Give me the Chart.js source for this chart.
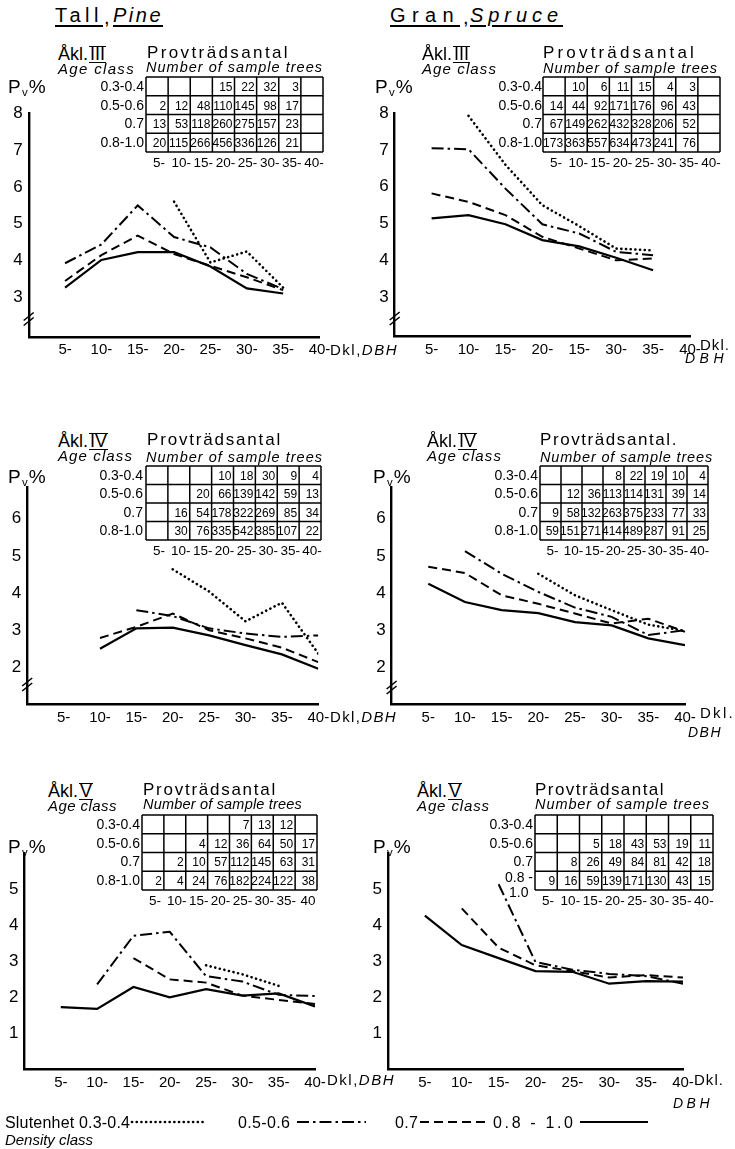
<!DOCTYPE html>
<html>
<head>
<meta charset="utf-8">
<script src="https://cdn.jsdelivr.net/npm/chart.js@4.4.0/dist/chart.umd.min.js"></script>
<style>
    body { margin: 0; background: #fff; }
    #page { position: relative; width: 735px; height: 1149px; overflow: hidden; font-family: "Liberation Sans", Arial, sans-serif; color: #000; }
    .t { position: absolute; white-space: nowrap; line-height: 1.2; }
    .u { text-decoration: underline; text-decoration-thickness: 1.6px; text-underline-offset: 3px; }
    .rn { display: inline-block; border-top: 1.6px solid #000; border-bottom: 1.6px solid #000; line-height: 0.8; padding: 0 1px; margin-left: 1px; }
    .box { position: absolute; }
    sub { font-size: 0.6em; vertical-align: -0.25em; }
    svg { position: absolute; overflow: visible; }
</style>
</head>
<body>
<div id="page"></div>
<script>
// Diameter classes (x) and labels
const dbhClasses = [5, 10, 15, 20, 25, 30, 35, 40];
const xTickLabels = ['5-', '10-', '15-', '20-', '25-', '30-', '35-', '40-'];
const xTickLabelsGranIII = ['5-', '10-', '15-', '20-', '15-', '30-', '35-', '40-'];
const densityClasses = ['0.3-0.4', '0.5-0.6', '0.7', '0.8-1.0'];
const tableColLabels = ['5-', '10-', '15-', '20-', '25-', '30-', '35-', '40-'];
const tableColLabelsV = ['5-', '10-', '15-', '20-', '25-', '30-', '35-', '40'];
const yTicksIII = [3, 4, 5, 6, 7, 8];
const yTicksIV = [2, 3, 4, 5, 6];
const yTicksV = [1, 2, 3, 4, 5];

// Pv % — Tall (Pine)
const tallIII_03 = [null, null, null, 5.6, 3.95, 4.25, 3.27, null];
const tallIII_05 = [3.93, 4.44, 5.5, 4.64, 4.36, 3.64, 3.23, null];
const tallIII_07 = [3.45, 4.15, 4.68, 4.18, 3.86, 3.55, 3.2, null];
const tallIII_08 = [3.27, 4.02, 4.23, 4.23, 3.84, 3.25, 3.11, null];

const tallIV_03 = [null, null, null, 4.64, 4.04, 3.24, 3.74, 2.37];
const tallIV_05 = [null, null, 3.54, 3.38, 3.05, 2.91, 2.82, 2.86];
const tallIV_07 = [null, 2.79, 3.09, 3.45, 3.0, 2.78, 2.53, 2.14];
const tallIV_08 = [null, 2.5, 3.05, 3.07, 2.86, 2.6, 2.35, 1.96];

const tallV_03 = [null, null, null, null, 2.89, 2.64, 2.32, null];
const tallV_05 = [null, 2.36, 3.71, 3.82, 2.59, 2.44, 2.07, 2.04];
const tallV_07 = [null, null, 3.09, 2.5, 2.41, 2.05, 1.93, 1.82];
const tallV_08 = [1.73, 1.68, 2.29, 2.0, 2.23, 2.05, 2.11, 1.75];

// Pv % — Gran (Spruce)
const granIII_03 = [null, 7.93, 6.6, 5.5, 4.93, 4.32, 4.27, null];
const granIII_05 = [7.05, 7.02, 5.95, 4.98, 4.73, 4.23, 4.14, null];
const granIII_07 = [5.82, 5.59, 5.23, 4.64, 4.32, 4.0, 4.05, null];
const granIII_08 = [5.14, 5.23, 4.98, 4.55, 4.38, 4.07, 3.73, null];

const granIV_03 = [null, null, null, 4.52, 3.94, 3.54, 3.15, 2.98];
const granIV_05 = [null, 5.13, 4.52, 4.03, 3.61, 3.36, 2.87, 3.0];
const granIV_07 = [4.71, 4.54, 3.94, 3.71, 3.45, 3.18, 3.31, 2.96];
const granIV_08 = [4.25, 3.76, 3.54, 3.46, 3.22, 3.13, 2.78, 2.6];

const granV_03 = [null, null, null, null, null, null, null, null];
const granV_05 = [null, null, 5.14, 2.98, 2.77, 2.65, 2.59, 2.38];
const granV_07 = [null, 4.47, 3.38, 2.89, 2.73, 2.55, 2.62, 2.55];
const granV_08 = [4.27, 3.45, 3.09, 2.73, 2.71, 2.38, 2.45, 2.44];

// Number of sample trees (rows = density classes)
const tallIII_trees = [['', '', '', 15, 22, 32, 3, ''], [2, 12, 48, 110, 145, 98, 17, ''], [13, 53, 118, 260, 275, 157, 23, ''], [20, 115, 266, 456, 336, 126, 21, '']];
const granIII_trees = [['', 10, 6, 11, 15, 4, 3, ''], [14, 44, 92, 171, 176, 96, 43, ''], [67, 149, 262, 432, 328, 206, 52, ''], [173, 363, 557, 634, 473, 241, 76, '']];
const tallIV_trees = [['', '', '', 10, 18, 30, 9, 4], ['', '', 20, 66, 139, 142, 59, 13], ['', 16, 54, 178, 322, 269, 85, 34], ['', 30, 76, 335, 542, 385, 107, 22]];
const granIV_trees = [['', '', '', 8, 22, 19, 10, 4], ['', 12, 36, 113, 114, 131, 39, 14], [9, 58, 132, 263, 375, 233, 77, 33], [59, 151, 271, 414, 489, 287, 91, 25]];
const tallV_trees = [['', '', '', '', 7, 13, 12, ''], ['', '', 4, 12, 36, 64, 50, 17], ['', 2, 10, 57, 112, 145, 63, 31], [2, 4, 24, 76, 182, 224, 122, 38]];
const granV_trees = [['', '', '', '', '', '', '', ''], ['', '', 5, 18, 43, 53, 19, 11], ['', 8, 26, 49, 84, 81, 42, 18], [9, 16, 59, 139, 171, 130, 43, 15]];

const lineStyles = [
    { borderDash: [0.1, 4.6], borderCapStyle: 'round', borderWidth: 2.6 },
    { borderDash: [12, 4, 2.5, 4], borderWidth: 2 },
    { borderDash: [9, 5], borderWidth: 2 },
    { borderDash: [], borderWidth: 2.2 }
];

const FONT = '"Liberation Sans", Arial, sans-serif';
const page = document.getElementById('page');
const SVGNS = 'http://www.w3.org/2000/svg';

// Absolute text: x = left edge, y = vertical centre of capitals
function T(html, x, y, size, o = {}) {
    const el = document.createElement('div');
    el.className = 't';
    el.innerHTML = html;
    el.style.fontSize = size + 'px';
    if (o.italic) el.style.fontStyle = 'italic';
    page.appendChild(el);
    if (o.w) {
        const nat = el.getBoundingClientRect().width;
        el.style.letterSpacing = ((o.w - nat) / el.textContent.length) + 'px';
    }
    const w = el.getBoundingClientRect().width;
    el.style.left = (o.align === 'right' ? x - w : x) + 'px';
    el.style.top = (y - size * 0.6) + 'px';
    return el;
}

function svgEl(tag, attrs, parent) {
    const e = document.createElementNS(SVGNS, tag);
    for (const k in attrs) e.setAttribute(k, attrs[k]);
    if (parent) parent.appendChild(e);
    return e;
}

function countTable(p) {
    const cw = p.tw / 8, rh = p.th / 4;
    const svg = svgEl('svg', { width: p.tw, height: p.th + 20 });
    svg.style.left = p.tx + 'px';
    svg.style.top = p.ty + 'px';
    for (let c = 0; c <= 8; c++) svgEl('line', { x1: c * cw, x2: c * cw, y1: 0, y2: p.th, stroke: '#000', 'stroke-width': 1.5 }, svg);
    for (let r = 0; r <= 4; r++) svgEl('line', { x1: 0, x2: p.tw, y1: r * rh, y2: r * rh, stroke: '#000', 'stroke-width': 1.5 }, svg);
    p.trees.forEach((row, r) => row.forEach((v, c) => {
        if (v === '') return;
        const t = svgEl('text', { x: (c + 1) * cw - 2, y: (r + 0.5) * rh + 4.4, 'text-anchor': 'end', 'font-size': 12, 'font-family': FONT }, svg);
        t.textContent = v;
    }));
    p.colLabels.forEach((s, c) => {
        const t = svgEl('text', { x: (c + 0.5) * cw + 2, y: p.th + 15, 'text-anchor': 'middle', 'font-size': 13.5, 'font-family': FONT }, svg);
        t.textContent = s;
    });
    page.appendChild(svg);
    densityClasses.forEach((s, r) => {
        if (p.splitLast && r === 3) {
            T('0.8 -', p.rlx, p.ty + (r + 0.35) * rh, 14, { align: 'right' });
            T('1.0', p.rlx - 24, p.ty + (r + 1.15) * rh, 14);
        } else {
            T(s, p.rlx, p.ty + (r + 0.5) * rh, 14, { align: 'right' });
        }
    });
}

const breakMarks = {
    id: 'breakMarks',
    afterDraw(chart, args, opts) {
        if (!opts.offset) return;
        const { ctx, chartArea } = chart;
        const x = chartArea.left, y = chartArea.bottom - opts.offset;
        ctx.save();
        ctx.strokeStyle = '#000';
        ctx.lineWidth = 1.6;
        [-2.5, 2.5].forEach(d => {
            ctx.beginPath();
            ctx.moveTo(x - 5, y + 4 + d);
            ctx.lineTo(x + 5, y - 4 + d);
            ctx.stroke();
        });
        ctx.restore();
    }
};

const YW = 24, XH = 24;

function drawPanel(p) {
    const L = Math.round(p.area.l) - 28, Tp = Math.round(p.area.t) - 14;
    const W = Math.round(p.area.r) - L + 24, H = Math.round(p.area.b) - Tp + 30;
    const box = document.createElement('div');
    box.className = 'box';
    Object.assign(box.style, { left: L + 'px', top: Tp + 'px', width: W + 'px', height: H + 'px' });
    const cv = document.createElement('canvas');
    box.appendChild(cv);
    page.appendChild(box);

    new Chart(cv, {
        type: 'line',
        data: {
            datasets: p.series.map((vals, i) => Object.assign({
                label: densityClasses[i],
                data: dbhClasses.map((x, j) => ({ x: x, y: vals[j] })),
                borderColor: '#000',
                pointRadius: 0,
                fill: false,
                tension: 0,
                spanGaps: false
            }, lineStyles[i]))
        },
        options: {
            responsive: true,
            maintainAspectRatio: false,
            animation: false,
            layout: {
                padding: {
                    left: p.area.l - L - YW,
                    top: p.area.t - Tp,
                    right: L + W - p.area.r,
                    bottom: Tp + H - p.area.b - XH
                }
            },
            plugins: {
                legend: { display: false },
                tooltip: { enabled: false },
                breakMarks: { offset: p.brk }
            },
            scales: {
                x: {
                    type: 'linear', min: 0, max: 40,
                    grid: { display: false, drawTicks: false },
                    border: { color: '#000', width: 2.4 },
                    afterFit: s => { s.height = XH; },
                    afterBuildTicks: s => { s.ticks = dbhClasses.map(v => ({ value: v })); },
                    ticks: {
                        padding: 4, color: '#000', autoSkip: false, maxRotation: 0,
                        font: { size: 15, family: FONT },
                        callback: (v, i) => p.xLabels[i]
                    }
                },
                y: {
                    type: 'linear', min: p.yMin, max: p.yMax,
                    grid: { display: false, drawTicks: false },
                    border: { color: '#000', width: 2.4 },
                    afterFit: s => { s.width = YW; },
                    afterBuildTicks: s => { s.ticks = p.yTicks.map(v => ({ value: v })); },
                    ticks: {
                        padding: 6, color: '#000',
                        font: { size: 17, family: FONT },
                        callback: v => v
                    }
                }
            }
        },
        plugins: [breakMarks]
    });
}

const panels = [
    { area: { l: 28.7, r: 319.5, t: 110.8, b: 337 }, yMin: 1.93, yMax: 8, yTicks: yTicksIII, xLabels: xTickLabels,
      series: [tallIII_03, tallIII_05, tallIII_07, tallIII_08], brk: 18 },
    { area: { l: 394.7, r: 690, t: 110.8, b: 336.5 }, yMin: 1.93, yMax: 8, yTicks: yTicksIII, xLabels: xTickLabelsGranIII,
      series: [granIII_03, granIII_05, granIII_07, granIII_08], brk: 18 },
    { area: { l: 27.2, r: 318.3, t: 485.1, b: 704.5 }, yMin: 1.0, yMax: 6.85, yTicks: yTicksIV, xLabels: xTickLabels,
      series: [tallIV_03, tallIV_05, tallIV_07, tallIV_08], brk: 20 },
    { area: { l: 391.6, r: 685, t: 485.1, b: 704.5 }, yMin: 1.0, yMax: 6.85, yTicks: yTicksIV, xLabels: xTickLabels,
      series: [granIV_03, granIV_05, granIV_07, granIV_08], brk: 17 },
    { area: { l: 24.5, r: 315, t: 850.5, b: 1069.5 }, yMin: 0, yMax: 6, yTicks: yTicksV, xLabels: xTickLabels,
      series: [tallV_03, tallV_05, tallV_07, tallV_08], brk: 0 },
    { area: { l: 388, r: 683, t: 850.5, b: 1069.5 }, yMin: 0, yMax: 6, yTicks: yTicksV, xLabels: xTickLabels,
      series: [granV_03, granV_05, granV_07, granV_08], brk: 0 }
];
panels.forEach(drawPanel);

// Tables of sample tree numbers
countTable({ tx: 146, ty: 77, tw: 177, th: 75, trees: tallIII_trees, colLabels: tableColLabels, rlx: 144 });
countTable({ tx: 543, ty: 77, tw: 177, th: 75, trees: granIII_trees, colLabels: tableColLabels, rlx: 542 });
countTable({ tx: 146, ty: 466, tw: 175, th: 74, trees: tallIV_trees, colLabels: tableColLabels, rlx: 143 });
countTable({ tx: 540, ty: 466, tw: 168, th: 74, trees: granIV_trees, colLabels: tableColLabels, rlx: 538 });
countTable({ tx: 142, ty: 815, tw: 175, th: 75, trees: tallV_trees, colLabels: tableColLabelsV, rlx: 140 });
countTable({ tx: 535, ty: 815, tw: 178, th: 75, trees: granV_trees, colLabels: tableColLabels, rlx: 533, splitLast: true });

// Titles
T('<span class="u">Tall</span>', 55, 15, 20, { w: 48 });
T(',', 104, 17, 20);
T('<span class="u">Pine</span>', 113, 15, 20, { w: 50, italic: true });
T('<span class="u">Gran</span>', 390, 15, 20, { w: 70 });
T(',', 463, 17, 20);
T('<span class="u">Spruce</span>', 470, 15, 20, { w: 93, italic: true });

// Panel headings
const heads = [
    { akl: 'III', ax: 58, ay: 55, agew: 77, px: 147, py: 53, pw: 143, prov: 'Provträdsantal', nx: 146, ny: 68, nw: 177, pvx: 8, pvy: 87 },
    { akl: 'III', ax: 422, ay: 55, agew: 75, px: 543, py: 53, pw: 154, prov: 'Provträdsantal', nx: 543, ny: 69, nw: 175, pvx: 375, pvy: 87 },
    { akl: 'IV', ax: 58, ay: 442, agew: 75, px: 147, py: 440, pw: 135, prov: 'Provträdsantal', nx: 146, ny: 458, nw: 177, pvx: 8, pvy: 477 },
    { akl: 'IV', ax: 427, ay: 442, agew: 75, px: 540, py: 440, pw: 138, prov: 'Provträdsantal.', nx: 540, ny: 458, nw: 173, pvx: 373, pvy: 477 },
    { akl: 'V', ax: 48, ay: 792, agew: 69, px: 143, py: 790, pw: 134, prov: 'Provträdsantal', nx: 143, ny: 805, nw: 159, pvx: 8, pvy: 847 },
    { akl: 'V', ax: 417, ay: 792, agew: 73, px: 535, py: 790, pw: 130, prov: 'Provträdsantal', nx: 535, ny: 805, nw: 175, pvx: 373, pvy: 847 }
];
heads.forEach(h => {
    T('Åkl.<span class="rn">' + h.akl + '</span>', h.ax, h.ay, 18);
    T('Age class', h.ax, h.ay + 14, 15, { italic: true, w: h.agew });
    T(h.prov, h.px, h.py, 17, { w: h.pw });
    T('Number of sample trees', h.nx, h.ny, 14.5, { italic: true, w: h.nw });
    T('P<sub>v</sub>%', h.pvx, h.pvy, 19, { w: 39 });
});

// Axis name after the last tick
T('Dkl,<i>DBH</i>', 330, 350, 15, { w: 68 });
T('Dkl.', 700, 345, 15, { w: 30 });
T('<i>DBH</i>', 685, 358, 14, { w: 43 });
T('Dkl,<i>DBH</i>', 330, 717, 15, { w: 67 });
T('Dkl.', 700, 713, 15, { w: 35 });
T('<i>DBH</i>', 688, 732, 14, { w: 34 });
T('Dkl,<i>DBH</i>', 327, 1080, 15, { w: 68 });
T('Dkl.', 694, 1080, 15, { w: 30 });
T('<i>DBH</i>', 673, 1103, 14, { w: 40 });

// Legend
const lg = svgEl('svg', { width: 735, height: 40 });
lg.style.left = '0px';
lg.style.top = '1105px';
const legendItems = [
    { text: 'Slutenhet 0.3-0.4', x: 5, w: 125, l1: 132, l2: 205 },
    { text: '0.5-0.6', x: 238, w: 52, l1: 297, l2: 366 },
    { text: '0.7', x: 395, w: 23, l1: 420, l2: 488 },
    { text: '0.8 - 1.0', x: 493, w: 80, l1: 580, l2: 648 }
];
legendItems.forEach((it, i) => {
    const t = svgEl('text', { x: it.x, y: 23, 'font-size': 16, 'font-family': FONT, textLength: it.w, lengthAdjust: 'spacing' }, lg);
    t.textContent = it.text;
    const st = lineStyles[i];
    svgEl('line', {
        x1: it.l1, x2: it.l2, y1: 17, y2: 17, stroke: '#000', 'stroke-width': st.borderWidth,
        'stroke-dasharray': st.borderDash.length ? st.borderDash.join(' ') : 'none',
        'stroke-linecap': st.borderCapStyle === 'round' ? 'round' : 'butt'
    }, lg);
});
page.appendChild(lg);
T('Density class', 5, 1140, 15, { italic: true, w: 88 });
</script>
</body>
</html>
